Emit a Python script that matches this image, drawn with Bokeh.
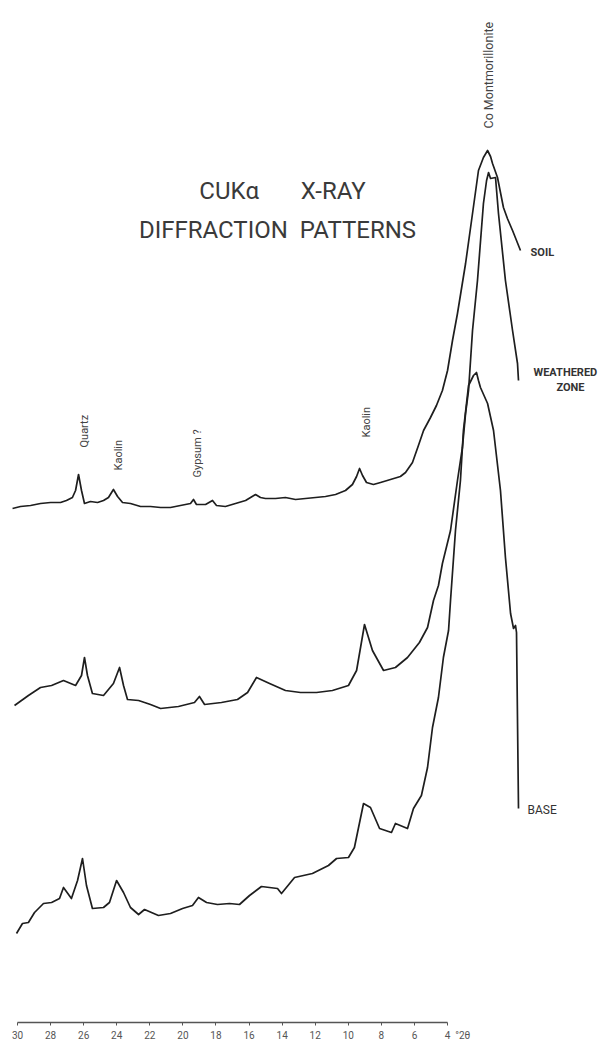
import math
from bokeh.plotting import figure
from bokeh.models import Range1d, LinearAxis, FixedTicker
from bokeh.core.properties import value
from bokeh.embed import file_html
from bokeh.resources import INLINE

# ---- data (2-theta as drawn on the axis, relative intensity incl. stacking offset) ----
soil_2theta = [30.30, 29.82, 29.21, 28.61, 28.00, 27.40, 27.04, 26.68, 26.49, 26.31, 26.13, 25.95, 25.59, 25.16,
               24.80, 24.50, 24.20, 23.95, 23.65, 23.17, 22.56, 21.96, 21.35, 20.75, 20.15, 19.54, 19.36, 19.18,
               18.63, 18.21, 17.97, 17.43, 16.82, 16.21, 15.91, 15.61, 15.31, 15.01, 14.40, 13.80, 13.19, 12.59,
               11.98, 11.38, 10.77, 10.17, 9.75, 9.50, 9.32, 9.14, 8.90, 8.48, 8.05, 7.45, 6.85, 6.54, 6.12,
               5.76, 5.45, 5.03, 4.67, 4.31, 4.00, 3.70, 3.40, 2.91, 2.49, 2.13, 1.83, 1.58, 1.40, 1.28, 0.98,
               0.62, 0.38, 0.07, -0.17, -0.41]
soil_intensity = [514, 516, 517, 519, 520, 520, 522, 525, 532, 548, 532, 519, 521, 520,
                  522, 525, 533, 526, 520, 519, 516, 516, 515, 515, 517, 519, 523, 518,
                  518, 522, 517, 516, 519, 522, 525, 528, 525, 524, 524, 525, 523, 524,
                  525, 526, 528, 532, 538, 546, 554, 547, 540, 538, 540, 543, 546, 550, 560,
                  577, 592, 605, 617, 632, 652, 682, 709, 759, 809, 852, 865, 872, 866, 859, 845,
                  815, 804, 792, 782, 772]

weathered_2theta = [30.18, 29.34, 28.61, 27.94, 27.22, 26.49, 26.13, 25.95, 25.77, 25.47, 24.80, 24.20, 23.83,
                    23.59, 23.35, 22.68, 21.96, 21.35, 20.27, 19.30, 19.00, 18.69, 17.67, 16.70, 16.09, 15.55,
                    14.76, 13.80, 12.89, 11.92, 10.96, 9.99, 9.50, 9.02, 8.54, 7.87, 7.15, 6.42, 5.70, 5.21,
                    4.85, 4.55, 4.31, 3.82, 3.40, 3.10, 2.91, 2.73, 2.49, 2.19, 1.83, 1.64, 1.52, 1.40, 1.10,
                    0.92, 0.50, 0.07, -0.23, -0.29]
weathered_intensity = [317, 327, 335, 337, 342, 337, 347, 365, 347, 329, 327, 339, 355,
                       337, 323, 322, 318, 314, 316, 320, 326, 318, 320, 323, 330, 345,
                       339, 332, 330, 330, 332, 337, 352, 398, 372, 352, 355, 365, 380, 395,
                       422, 437, 459, 492, 542, 575, 609, 632, 692, 742, 819, 842, 850, 844, 845,
                       809, 742, 692, 659, 642]

base_2theta = [30.06, 29.70, 29.34, 28.97, 28.43, 27.94, 27.46, 27.22, 26.74, 26.37, 26.07, 25.83, 25.47, 24.80,
               24.44, 24.01, 23.59, 23.17, 22.68, 22.32, 21.48, 20.75, 20.02, 19.42, 19.06, 18.57, 17.91, 17.18,
               16.58, 15.97, 15.25, 14.28, 14.04, 13.25, 12.17, 11.20, 10.71, 9.99, 9.63, 9.08, 8.66, 8.11,
               7.39, 7.15, 6.42, 6.06, 5.58, 5.21, 4.91, 4.55, 4.25, 3.94, 3.82, 3.52, 3.22, 3.04, 2.73,
               2.43, 2.25, 2.13, 2.01, 1.58, 1.22, 0.80, 0.50, 0.19, 0.01, -0.11, -0.17, -0.29]
base_intensity = [89, 99, 100, 110, 119, 120, 124, 135, 124, 142, 164, 137, 114, 115,
                  120, 142, 130, 115, 108, 113, 107, 109, 114, 117, 125, 120, 118, 119,
                  118, 127, 136, 134, 129, 145, 149, 157, 164, 165, 175, 219, 215, 194,
                  190, 199, 194, 214, 227, 255, 295, 325, 365, 392, 422, 492, 542, 592, 637,
                  647, 650, 642, 635, 619, 592, 532, 465, 409, 394, 397, 390, 214]

tick_values = [30, 28, 26, 24, 22, 20, 18, 16, 14, 12, 10, 8, 6, 4]
axis_unit = "°2θ"

peak_names = ["Quartz", "Kaolin", "Gypsum ?", "Kaolin"]
peak_2theta = [25.95, 23.89, 19.12, 8.90]
main_peak_name = "Co Montmorillonite"
main_peak_2theta = 1.52

pattern_names = ["SOIL", "WEATHERED", "BASE"]
title_lines = ["CUKα" + "\u00a0" * 7 + "X-RAY", "DIFFRACTION\u00a0\u00a0PATTERNS"]

# ---- figure ----
p = figure(width=616, height=1043, output_backend="svg", toolbar_location=None,
           x_axis_type=None, y_axis_type=None,
           x_range=Range1d(31.028, -6.215), y_range=Range1d(0, 1022),
           min_border_left=0, min_border_right=0, min_border_top=0, min_border_bottom=21)
p.outline_line_color = None
p.background_fill_color = "white"
p.border_fill_color = "white"

line_kw = dict(line_color="#1e1e1e", line_width=1.7, line_join="round")
p.line(soil_2theta, soil_intensity, **line_kw)
p.line(weathered_2theta, weathered_intensity, **line_kw)
p.line(base_2theta, base_intensity, **line_kw)

nb = "\u00a0"
ax = LinearAxis(ticker=FixedTicker(ticks=tick_values), bounds=(4, 30))
ax.major_label_overrides = {4: nb * 8 + "4" + nb * 2 + axis_unit}
ax.axis_line_color = "#555555"
ax.axis_line_width = 1.4
ax.major_tick_line_color = "#555555"
ax.major_tick_out = 3
ax.major_tick_in = 0
ax.minor_tick_line_color = None
ax.major_label_text_font = "Roboto"
ax.major_label_text_font_size = "10px"
ax.major_label_text_color = "#555555"
ax.major_label_standoff = 4
p.add_layout(ax, "below")

# title
p.text(x=[13.98, 14.28], y=[832, 793], text=title_lines, text_align="center", text_baseline="middle",
       text_font=value("Roboto"), text_font_size="24px", text_color="#3a3a3a")

# peak labels (rotated)
p.text(x=peak_2theta, y=[575, 552, 545, 585], text=peak_names, angle=math.pi / 2,
       text_align="left", text_baseline="middle", text_font=value("Roboto"),
       text_font_size="11px", text_color="#444444")
p.text(x=[main_peak_2theta], y=[894], text=[main_peak_name], angle=math.pi / 2,
       text_align="left", text_baseline="middle", text_font=value("Roboto"),
       text_font_size="12.5px", text_color="#444444")

# pattern labels
p.text(x=[-1.02, -1.20], y=[770, 650], text=pattern_names[:2], text_align="left", text_baseline="middle",
       text_font=value("Roboto"), text_font_size="11px", text_font_style="bold", text_color="#333333")
p.text(x=[-3.43], y=[635], text=["ZONE"], text_align="center", text_baseline="middle",
       text_font=value("Roboto"), text_font_size="11px", text_font_style="bold", text_color="#333333")
p.text(x=[-0.835], y=[213], text=[pattern_names[2]], text_align="left", text_baseline="middle",
       text_font=value("Roboto"), text_font_size="12px", text_color="#333333")

open("out.html", "w").write(file_html(p, INLINE))
